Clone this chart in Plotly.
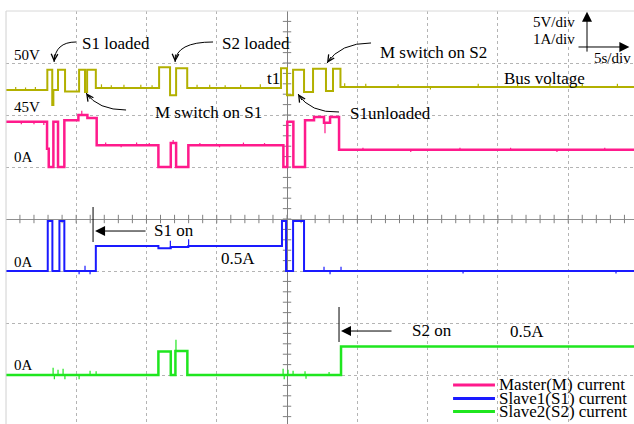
import numpy as np
import plotly.graph_objects as go

# ---- recorded waveforms (time in s, 0 at t1; 5 s/div) ----
T_END = 24.68

# bus voltage (V), step levels
bus_t = [-19.99, -17.05, -16.70, -16.62, -16.29, -15.79, -14.79, -14.37, -14.22, -13.60,
         -9.10, -8.32, -7.89, -7.10, -0.43, 0.00, 0.43, 1.21, 1.85, 2.77, 3.27, 3.80]
bus_v = [47.4, 49.35, 45.96, 47.4, 49.35, 47.25, 49.35, 47.2, 49.35, 47.6,
         49.6, 46.9, 49.5, 47.6, 49.5, 46.9, 49.35, 47.2, 49.45, 47.3, 49.45, 47.7]
bus_spike_t = [-19.3, -18.6, -17.9, -13.2, -12.5, -11.6, -10.4, -9.6, -6.4, -5.5, -4.4,
               -3.3, -1.9, 4.1, 5.6, 7.9, 10.2, 13.6, 16.4, 18.7, 21.0, 23.5]
bus_spike_dv = [0.3, 0.25, 0.3, 0.35, 0.25, 0.3, 0.3, 0.25, 0.3, 0.3, 0.25,
                0.3, 0.35, 0.35, 0.3, 0.25, -0.25, 0.3, 0.3, 0.35, 0.3, 0.3]

# master current (A)
m_t = [-19.99, -17.07, -16.95, -16.62, -16.29, -15.84, -14.84, -14.20, -13.54, -9.15,
       -8.27, -7.89, -7.02, -0.26, 0.02, 0.45, 1.28, 1.92, 2.63, 3.06, 3.70]
m_i = [0.87, 0.35, 0.0, 0.87, 0.0, 0.90, 1.0, 0.94, 0.42, 0.0,
       0.46, 0.0, 0.42, 0.0, 0.87, 0.0, 0.90, 0.96, 0.85, 0.96, 0.33]
m_spike_t = [-18.9, -18.0, -17.3, -14.6, -12.9, -11.8, -10.7, -9.8, -8.1, -6.2, -4.8,
             -3.1, -1.6, 2.7, 5.4, 8.8, 12.3, 15.9, 19.2, 22.6]
m_spike_dv = [-0.05, -0.05, -0.06, 0.08, 0.05, -0.04, 0.05, 0.04, 0.06, 0.04, -0.04,
              0.05, 0.04, -0.2, 0.04, -0.04, 0.04, 0.04, -0.04, 0.04]

# slave 1 current (A)
s1_t = [-19.99, -17.02, -16.69, -16.19, -15.84, -13.60, -9.15, -8.27, -7.02,
        -0.36, -0.07, 0.43, 1.21]
s1_i = [0.0, 0.96, 0.0, 0.96, 0.0, 0.48, 0.44, 0.46, 0.48,
        0.96, 0.0, 0.96, 0.0]
s1_spike_t = [-14.79, -14.37, -14.01, -8.30, -7.00, 2.63, 3.06, 3.84, 12.52, 23.4]
s1_spike_dv = [-0.06, 0.1, -0.06, 0.14, 0.13, 0.08, -0.06, 0.08, -0.05, -0.05]

# slave 2 current (A)
s2_t = [-19.99, -9.15, -8.27, -7.94, -7.09, 3.84]
s2_i = [0.0, 0.45, 0.0, 0.46, 0.0, 0.55]
s2_spike_t = [-16.64, -16.55, -16.29, -15.93, -15.80, -14.79, -14.01, -13.58, -7.90,
              -0.28, -0.20, 0.07, 0.43, 1.28, 1.35, 2.99]
s2_spike_dv = [0.14, -0.08, 0.10, 0.12, -0.08, -0.08, 0.08, 0.07, 0.22,
               0.12, -0.08, 0.10, 0.08, 0.07, -0.07, 0.06]


def steps(step_t, step_v):
    """Step levels held until the next change, extended to the end of the record."""
    return list(step_t) + [T_END], list(step_v) + [step_v[-1]]


def glitches(step_t, step_v, spike_t, spike_dv):
    """Short vertical glitches drawn from the current level."""
    xs, ys = [], []
    for ts, dv in zip(spike_t, spike_dv):
        i = int(np.searchsorted(step_t, ts, side="right")) - 1
        base = step_v[i]
        xs += [ts, ts, None]
        ys += [base, base + dv, None]
    return xs, ys


C_BUS = "#b2b000"
C_M = "#ff1a8c"
C_S1 = "#1a1aff"
C_S2 = "#1fe61f"
FONT = "Liberation Serif"

fig = go.Figure()

# channel traces, each on its own vertical scale
for (tt, vv, sx, sd), color, axis, w in [
    ((bus_t, bus_v, bus_spike_t, bus_spike_dv), C_BUS, "y2", 2),
    ((m_t, m_i, m_spike_t, m_spike_dv), C_M, "y3", 2.5),
    ((s1_t, s1_i, s1_spike_t, s1_spike_dv), C_S1, "y4", 2),
    ((s2_t, s2_i, s2_spike_t, s2_spike_dv), C_S2, "y5", 2.5),
]:
    x, y = steps(tt, vv)
    fig.add_trace(go.Scatter(x=x, y=y, mode="lines", line=dict(color=color, width=w, shape="hv"),
                             yaxis=axis, showlegend=False, hoverinfo="skip"))
    gx, gy = glitches(tt, vv, sx, sd)
    fig.add_trace(go.Scatter(x=gx, y=gy, mode="lines", line=dict(color=color, width=1.2),
                             yaxis=axis, showlegend=False, hoverinfo="skip", connectgaps=False))

# small division marks on the centre cross
tick_x = np.arange(-19, 25, 1.0)
tick_y = np.arange(-3.8, 4.0, 0.2)
fig.add_trace(go.Scatter(x=tick_x, y=np.zeros_like(tick_x), mode="markers",
                         marker=dict(symbol="line-ns", size=6, line=dict(color="#808080", width=1)),
                         showlegend=False, hoverinfo="skip"))
fig.add_trace(go.Scatter(x=np.zeros_like(tick_y), y=tick_y, mode="markers",
                         marker=dict(symbol="line-ew", size=6, line=dict(color="#808080", width=1)),
                         showlegend=False, hoverinfo="skip"))

shapes = []
annotations = []

# screen border (left / top)
shapes.append(dict(type="line", xref="paper", yref="paper", x0=0, x1=0, y0=0, y1=1,
                   line=dict(color="#d0d0d0", width=1)))
shapes.append(dict(type="line", xref="paper", yref="paper", x0=0, x1=1, y0=1, y1=1,
                   line=dict(color="#d8d8d8", width=1)))


def text(x, y, s, size=17, anchor="left"):
    annotations.append(dict(x=x, y=y, xref="x", yref="y", text=s, showarrow=False,
                            xanchor=anchor, yanchor="middle",
                            font=dict(family=FONT, size=size, color="black")))


# level labels
text(-19.56, 3.15, "50V", 15)
text(-19.56, 2.15, "45V", 15)
text(-19.56, 1.19, "0A", 15)
text(-19.56, -0.83, "0A", 15)
text(-19.56, -2.81, "0A", 15)

# event labels
text(-14.72, 3.38, "S1 loaded")
text(-4.77, 3.38, "S2 loaded")
text(-9.53, 2.04, "M switch on S1")
text(-1.56, 2.71, "t1")
text(6.47, 3.21, "M switch on S2")
text(15.29, 2.71, "Bus voltage")
text(4.34, 2.02, "S1unloaded")
text(-9.60, -0.23, "S1 on")
text(-4.84, -0.75, "0.5A")
text(8.75, -2.15, "S2 on")
text(15.72, -2.17, "0.5A")

# scale indicator
text(20.63, 3.79, "5V/div", 15, "right")
text(20.63, 3.46, "1A/div", 15, "right")
text(21.69, 3.10, "5s/div", 15)
annotations.append(dict(x=21.337, y=3.985, ax=21.337, ay=3.19, xref="x", yref="y",
                        axref="x", ayref="y", text="", showarrow=True,
                        arrowhead=2, arrowsize=2, arrowwidth=1, arrowcolor="black"))
annotations.append(dict(x=24.35, y=3.308, ax=20.626, ay=3.308, xref="x", yref="y",
                        axref="x", ayref="y", text="", showarrow=True,
                        arrowhead=2, arrowsize=2, arrowwidth=1, arrowcolor="black"))

# curved call-out arrows: (start, control, tip, arrowhead tail offset in px)
curves = [
    ((-15.007, 3.404), (-16.501, 3.404), (-16.572, 3.019), (0.5, -9)),
    ((-5.263, 3.404), (-7.895, 3.404), (-7.966, 3.019), (0.5, -9)),
    ((-11.451, 2.096), (-13.442, 2.096), (-14.296, 2.423), (5.2, 7.4)),
    ((5.974, 3.385), (3.770, 3.385), (2.845, 3.0), (4.9, -7.5)),
    ((3.698, 2.058), (1.636, 2.038), (0.782, 2.404), (4.8, 7.6)),
]
for (x0, y0), (cx, cy), (x1, y1), (ox, oy) in curves:
    shapes.append(dict(type="path", xref="x", yref="y",
                       path=f"M {x0},{y0} Q {cx},{cy} {x1},{y1}",
                       line=dict(color="black", width=1)))
    annotations.append(dict(x=x1, y=y1, xref="x", yref="y", ax=ox, ay=oy, text="",
                            showarrow=True, arrowhead=5, arrowsize=1.3, arrowwidth=1,
                            arrowcolor="black"))

# turn-on markers with straight arrows
for xl, (yl0, yl1), tip, tail, yy in [
    (-13.798, (0.231, -0.442), -13.656, -9.957, -0.231),
    (3.698, (-1.692, -2.365), 3.841, 7.539, -2.154),
]:
    shapes.append(dict(type="line", xref="x", yref="y", x0=xl, x1=xl, y0=yl0, y1=yl1,
                       line=dict(color="black", width=1)))
    annotations.append(dict(x=tip, y=yy, ax=tail, ay=yy, xref="x", yref="y",
                            axref="x", ayref="y", text="", showarrow=True,
                            arrowhead=2, arrowsize=2, arrowwidth=1, arrowcolor="black"))

# legend
legend_names = ["Master(M) current", "Slave1(S1) current", "Slave2(S2) current"]
legend_colors = [C_M, C_S1, C_S2]
legend_rows = [-3.19, -3.45, -3.70]
for name, color, yy in zip(legend_names, legend_colors, legend_rows):
    shapes.append(dict(type="line", xref="x", yref="y", x0=11.81, x1=14.79, y0=yy, y1=yy,
                       line=dict(color=color, width=3)))
    text(14.94, yy, name, 17)

hidden = dict(visible=False, overlaying="y", fixedrange=True)
fig.update_layout(
    width=634, height=424,
    margin=dict(l=6, r=0, t=11, b=0, pad=0),
    paper_bgcolor="white", plot_bgcolor="white",
    xaxis=dict(range=[-19.99, 24.68], dtick=5, tick0=0, showticklabels=False, ticks="",
               showgrid=True, gridcolor="#b4b4b4", griddash="dot", gridwidth=1,
               zeroline=True, zerolinecolor="#808080", zerolinewidth=1, showline=False),
    yaxis=dict(range=[-3.942, 4.0], dtick=1, tick0=0, showticklabels=False, ticks="",
               showgrid=True, gridcolor="#b4b4b4", griddash="dot", gridwidth=1,
               zeroline=True, zerolinecolor="#909090", zerolinewidth=1, showline=False),
    yaxis2=dict(range=[35 + 5 * -3.942, 35 + 5 * 4.0], **hidden),
    yaxis3=dict(range=[-3.942 - 1, 4.0 - 1], **hidden),
    yaxis4=dict(range=[-3.942 + 1, 4.0 + 1], **hidden),
    yaxis5=dict(range=[-3.942 + 3, 4.0 + 3], **hidden),
    shapes=shapes,
    annotations=annotations,
    showlegend=False,
)

fig.write_html("out.html")
